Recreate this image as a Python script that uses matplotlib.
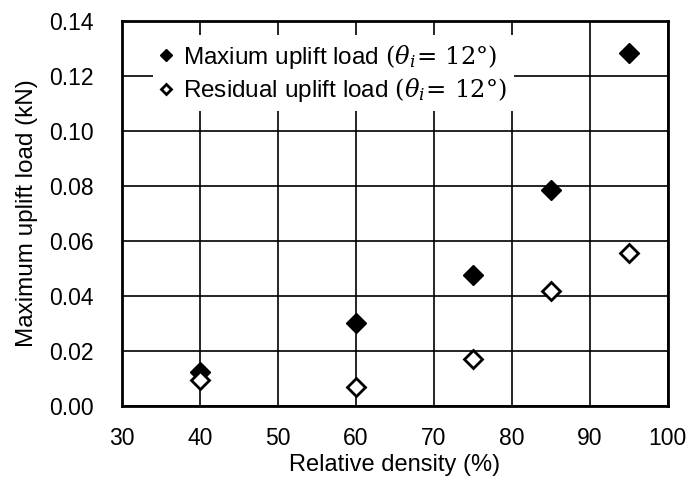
import matplotlib
matplotlib.use("Agg")
import matplotlib.pyplot as plt

plt.rcParams['font.family'] = ['Liberation Sans', 'DejaVu Sans']
plt.rcParams['mathtext.fontset'] = 'dejavuserif'

density = [40, 60, 75, 85, 95]
max_load = [0.0124, 0.0302, 0.0476, 0.0785, 0.1284]
residual_load = [0.0095, 0.0069, 0.0171, 0.0418, 0.0556]

fig = plt.figure(figsize=(6.92, 4.84), dpi=100)
ax = fig.add_axes([0.176, 0.161, 0.789, 0.796])

ax.plot(density, max_load, linestyle='none', marker='D', ms=10.5,
        mfc='black', mec='black', label=r'Maxium uplift load $(\theta_i\!=\,12\degree)$', zorder=3)
ax.plot(density, residual_load, linestyle='none', marker='D', ms=9,
        mfc='white', mec='black', mew=2, label=r'Residual uplift load $(\theta_i\!=\,12\degree)$', zorder=3)

ax.set_xlim(30, 100)
ax.set_ylim(0, 0.14)
ax.set_xticks(range(30, 101, 10))
ax.set_yticks([i * 0.02 for i in range(8)])
ax.set_yticklabels([f"{i * 0.02:.2f}" for i in range(8)])
ax.tick_params(length=0, labelsize=16.5)
ax.tick_params(axis='y', pad=20)
ax.tick_params(axis='x', pad=15)
ax.grid(True, color='black', linewidth=1.2)
ax.set_axisbelow(True)
for s in ax.spines.values():
    s.set_linewidth(2)

ax.set_xlabel('Relative density (%)', fontsize=17)
ax.xaxis.set_label_coords(0.5, -0.125)
ax.set_ylabel('Maximum uplift load (kN)', fontsize=17.5, labelpad=8)

leg = ax.legend(loc='upper left', bbox_to_anchor=(0.057, 0.962), fontsize=17.5,
                frameon=True, fancybox=False, edgecolor='none', framealpha=1,
                handlelength=0.5, handletextpad=0.45, borderpad=0.3, labelspacing=0.22,
                borderaxespad=0, markerscale=0.6)

fig.savefig('out.png', dpi=100)
